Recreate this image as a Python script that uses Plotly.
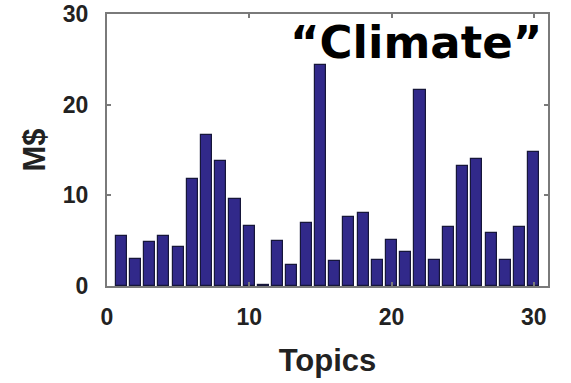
import plotly.graph_objects as go

# Spending per topic (M$), topics 1..30
topics = list(range(1, 31))
spend = [5.5, 3.0, 4.8, 5.5, 4.3, 11.8, 16.6, 13.8, 9.6, 6.6,
         0.1, 5.0, 2.3, 6.9, 24.4, 2.8, 7.6, 8.0, 2.9, 5.1,
         3.7, 21.6, 2.9, 6.5, 13.2, 14.0, 5.8, 2.9, 6.5, 14.8]
x_ticks = [0, 10, 20, 30]
y_ticks = [0, 10, 20, 30]

tick_font = dict(family="Liberation Sans, Arial, sans-serif", size=23, color="#222222", weight="bold")
title_font = dict(family="Liberation Sans, Arial, sans-serif", size=31, color="#222222", weight="bold")

fig = go.Figure()
fig.add_trace(go.Bar(
    x=topics, y=spend, width=0.78,
    marker=dict(color="#31298a", line=dict(color="#16163a", width=1.2)),
    hoverinfo="x+y",
))

axis_common = dict(
    showgrid=False, zeroline=False, automargin=False,
    showline=True, linecolor="#7a7a7a", linewidth=2, mirror="ticks",
    ticks="inside", ticklen=4, tickcolor="#7a7a7a", tickwidth=1.5,
    tickfont=tick_font,
)

fig.update_xaxes(range=[0, 31], tickvals=x_ticks, ticktext=[str(v) for v in x_ticks],
                 ticklabelstandoff=9,
                 title=dict(text="Topics", font=title_font, standoff=21),
                 **axis_common)
fig.update_yaxes(range=[0, 30], tickvals=y_ticks, ticktext=[str(v) for v in y_ticks],
                 ticklabelstandoff=12,
                 title=dict(text="M$", font=title_font, standoff=8),
                 **axis_common)

fig.add_annotation(
    text="\u201cClimate\u201d", xref="paper", yref="paper",
    x=0.99, y=0.895, xanchor="right", yanchor="middle", showarrow=False,
    font=dict(family="DejaVu Sans, sans-serif", size=45, color="#000000", weight="bold"),
)

fig.update_layout(
    width=571, height=383,
    margin=dict(l=107, r=23, t=14, b=97),
    plot_bgcolor="white", paper_bgcolor="white",
    showlegend=False, bargap=0,
)

fig.write_html("out.html")
